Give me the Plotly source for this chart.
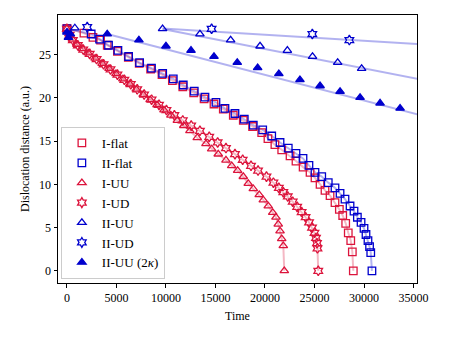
import plotly.graph_objects as go

# I-flat (red squares)
t_i_flat = [0, 1720, 2630, 3400, 4070, 5100, 6200, 7300, 8450, 9600, 10650, 11700, 12800,
            13850, 14850, 15790, 16800, 17810, 18750, 19670, 20300, 21000, 21690, 22530,
            23130, 23850, 24550, 25050, 25560, 26060, 26570, 27070, 27510, 27850, 28150,
            28410, 28660, 28820, 28920]
d_i_flat = [28.05, 27.5, 27.0, 26.7, 26.1, 25.4, 24.7, 24.0, 23.35, 22.7, 22.0, 21.3, 20.6,
            19.9, 19.3, 18.7, 18.0, 17.4, 16.7, 16.0, 15.3, 14.6, 14.0, 13.3,
            12.7, 12.0, 11.4, 10.75, 10.0, 9.3, 8.7, 7.9, 7.1, 6.4, 5.5,
            4.4, 3.5, 2.2, 0.0]

# II-flat (blue squares)
t_ii_flat = [0, 2450, 3300, 4200, 5150, 6230, 7340, 8540, 9670, 10740, 11750, 12860, 13940,
             15050, 15960, 16970, 17910, 18820, 19770, 20680, 21520, 22350, 23130, 23840,
             24440, 25050, 25730, 26390, 27070, 27580, 28080, 28590, 28990, 29330, 29700,
             30000, 30200, 30400, 30560, 30680, 30800]
d_ii_flat = [28.0, 27.4, 26.8, 26.1, 25.5, 24.8, 24.1, 23.45, 22.85, 22.2, 21.5, 20.8, 20.1,
             19.5, 18.8, 18.2, 17.55, 16.85, 16.3, 15.6, 14.85, 14.2, 13.6, 13.0,
             12.2, 11.4, 10.9, 10.2, 9.6, 8.95, 8.3, 7.5, 6.9, 6.2, 5.6,
             4.9, 4.2, 3.5, 2.8, 2.1, 0.0]

# I-UU (red open triangles)
t_i_uu = [0, 200, 550, 1000, 1550, 2150, 2850, 3550, 4250, 4950, 5650, 6350, 7000, 7700,
          8400, 9100, 9800, 10500, 11150, 11800, 12420, 13160, 14040, 14620, 15280, 16060,
          16640, 17240, 17810, 18310, 18820, 19420, 19830, 20330, 20780, 21110, 21340,
          21520, 21690, 21850, 21950]
d_i_uu = [28.0, 27.4, 26.8, 26.2, 25.7, 25.2, 24.6, 24.0, 23.4, 22.8, 22.2, 21.6, 21.0, 20.4,
          19.8, 19.2, 18.6, 18.0, 17.4, 16.8, 16.2, 15.4, 14.7, 14.1, 13.5, 12.8,
          12.15, 11.6, 10.9, 10.1, 9.5, 8.8, 8.2, 7.5, 6.75, 6.2, 5.4,
          4.6, 3.7, 2.9, 0.0]

# I-UD (red open hexagrams)
t_i_ud = [0, 280, 600, 1100, 1650, 2300, 3000, 3700, 4400, 5100, 5800, 6450, 7100, 7800,
          8550, 9300, 10050, 10850, 11700, 12550, 13430, 14370, 15220, 16060, 16970, 17750,
          18590, 19300, 20150, 20850, 21400, 21850, 22300, 22800, 23250, 23700, 24100,
          24450, 24750, 25000, 25150, 25250, 25300, 25380]
d_i_ud = [28.0, 27.3, 26.7, 26.1, 25.6, 25.1, 24.5, 23.9, 23.3, 22.7, 22.1, 21.6, 21.0, 20.4,
          19.8, 19.2, 18.6, 18.0, 17.4, 16.8, 16.2, 15.5, 14.85, 14.2, 13.5, 12.85,
          12.15, 11.6, 10.9, 10.2, 9.6, 9.1, 8.6, 8.0, 7.4, 6.8, 6.2,
          5.6, 5.0, 4.4, 3.8, 3.2, 2.6, 0.0]

# II-UU (blue open triangles) and its fitted line
t_ii_uu = [800, 9660, 13430, 16530, 19500, 22260, 24800, 27340, 29760]
d_ii_uu = [28.1, 28.0, 27.4, 26.7, 26.0, 25.5, 24.8, 24.1, 23.4]
t_ii_uu_fit = [9660, 35400]
d_ii_uu_fit = [27.97, 22.2]

# II-UD (blue open hexagrams) and its fitted line
t_ii_ud = [2050, 14610, 24780, 28520]
d_ii_ud = [28.2, 28.0, 27.4, 26.7]
t_ii_ud_fit = [9660, 35400]
d_ii_ud_fit = [28.05, 26.24]

# II-UU (2 kappa) (blue filled triangles) and its fitted line
t_ii_uu2k = [0, 150, 350, 4070, 7270, 10000, 12530, 14850, 17200, 19260, 21400, 23530,
             25560, 27580, 29600, 31620, 33640]
d_ii_uu2k = [27.6, 27.0, 27.4, 27.4, 26.7, 26.0, 25.5, 24.8, 24.1, 23.5, 22.8, 22.1,
             21.4, 20.75, 20.06, 19.4, 18.8]
t_ii_uu2k_fit = [4070, 35400]
d_ii_uu2k_fit = [27.4, 18.1]

RED = '#dc143c'
BLUE = '#0000cd'
RED_LINE = 'rgba(220,20,60,0.3)'
BLUE_LINE = 'rgba(0,0,205,0.3)'
FONT = 'Liberation Serif, Times New Roman, serif'


def line(x, y, color):
    return go.Scatter(x=x, y=y, mode='lines', line=dict(color=color, width=2),
                      showlegend=False, hoverinfo='skip')


def markers(x, y, name, color, symbol, size=7.5):
    return go.Scatter(x=x, y=y, mode='markers', name=name,
                      marker=dict(symbol=symbol, color=color, size=size,
                                  line=dict(color=color, width=1.3)))


fig = go.Figure(
    data=[
        line(t_i_flat, d_i_flat, RED_LINE),
        line(t_ii_flat, d_ii_flat, BLUE_LINE),
        line(t_i_uu, d_i_uu, RED_LINE),
        line(t_i_ud, d_i_ud, RED_LINE),
        line(t_ii_uu_fit, d_ii_uu_fit, BLUE_LINE),
        line(t_ii_ud_fit, d_ii_ud_fit, BLUE_LINE),
        line(t_ii_uu2k_fit, d_ii_uu2k_fit, BLUE_LINE),
        markers(t_i_flat, d_i_flat, 'I-flat', RED, 'square-open'),
        markers(t_ii_flat, d_ii_flat, 'II-flat', BLUE, 'square-open'),
        markers(t_i_uu, d_i_uu, 'I-UU', RED, 'triangle-up-open'),
        markers(t_i_ud, d_i_ud, 'I-UD', RED, 'hexagram-open'),
        markers(t_ii_uu, d_ii_uu, 'II-UU', BLUE, 'triangle-up-open'),
        markers(t_ii_ud, d_ii_ud, 'II-UD', BLUE, 'hexagram-open'),
        markers(t_ii_uu2k, d_ii_uu2k, 'II-UU (2<i>κ</i>)', BLUE, 'triangle-up'),
    ],
    layout=go.Layout(
        # the page body adds an 8px offset, margins are shifted to compensate
        width=450, height=340,
        margin=dict(l=50, r=41, t=7, b=65),
        paper_bgcolor='white', plot_bgcolor='white',
        font=dict(family=FONT, size=12, color='black'),
        xaxis=dict(
            title=dict(text='Time', standoff=7, font=dict(size=12)),
            range=[-900, 35350], dtick=5000, tick0=0, tickformat='d', automargin=False,
            showgrid=False, zeroline=False, showline=True, linecolor='black',
            linewidth=1, mirror=True, ticks='outside', ticklen=3.5, tickcolor='black'),
        yaxis=dict(
            title=dict(text='Dislocation distance (a.u.)', standoff=6, font=dict(size=12)),
            range=[-1.41, 29.6], dtick=5, tick0=0, automargin=False,
            showgrid=False, zeroline=False, showline=True, linecolor='black',
            linewidth=1, mirror=True, ticks='outside', ticklen=3.5, tickcolor='black'),
        legend=dict(
            x=0.008, y=0.015, xanchor='left', yanchor='bottom', itemwidth=30,
            bgcolor='rgba(255,255,255,0.8)', bordercolor='#cccccc', borderwidth=1,
            font=dict(size=13)),
    )
)

fig.write_html('out.html')
